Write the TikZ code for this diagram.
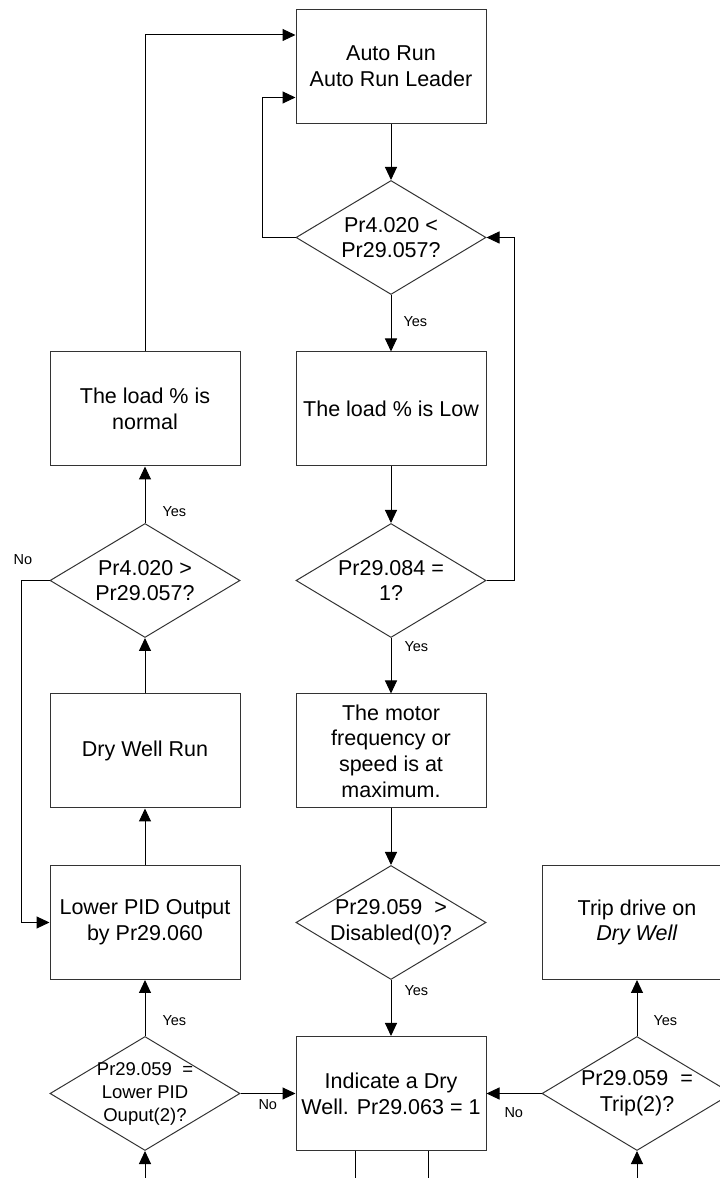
\documentclass[tikz,border=0pt]{standalone}
\usepackage{fontspec}
\setmainfont{Liberation Sans}
\usetikzlibrary{shapes.geometric,arrows.meta}

\tikzset{
  proc/.style={draw=black!80,rectangle,minimum width=190bp,minimum height=114bp,
    inner sep=0pt,align=center,font=\fontsize{21.5bp}{25.7bp}\selectfont},
  decision/.style={draw=black!80,diamond,minimum width=190bp,minimum height=114bp,inner sep=0pt},
  qtext/.style={align=center,inner sep=0pt,font=\fontsize{21.5bp}{25.7bp}\selectfont},
  ans/.style={anchor=west,inner sep=0pt,font=\fontsize{14.5bp}{17bp}\selectfont},
}

\begin{document}
\begin{tikzpicture}[line width=1bp,>={Triangle[length=13bp,width=12bp,color=black]}]
  \useasboundingbox (0bp,0bp) rectangle (720bp,1178bp);
  \clip (0bp,0bp) rectangle (720bp,1178bp);
		%%
  \node (AutoRun) at (391bp,1111.5bp) [proc] {Auto Run\\Auto Run Leader};
  \node (CheckLow) at (391bp,940.5bp) [decision] {};
  \node (CheckLowTxt) at (CheckLow) [qtext] {Pr4.020 <\\Pr29.057?};
  \node (LoadLow) at (391bp,769bp) [proc] {The load \% is Low};
  \node (CheckAuto) at (391bp,597.5bp) [decision] {};
  \node (CheckAutoTxt) at (CheckAuto) [qtext] {Pr29.084 =\\1?};
  \node (MaxSpeed) at (391bp,427bp) [proc] {The motor\\frequency or\\speed is at\\maximum.};
  \node (CheckEnable) at (391bp,255.5bp) [decision] {};
  \node (CheckEnableTxt) at (CheckEnable) [qtext] {Pr29.059~~>\\Disabled(0)?};
  \node (DryWell) at (391bp,84.5bp) [proc] {Indicate a Dry\\Well. Pr29.063 = 1};
		%
  \node (LoadNormal) at (145bp,769bp) [proc] {The load \% is\\normal};
  \node (CheckHigh) at (145bp,597.5bp) [decision] {};
  \node (CheckHighTxt) at (CheckHigh) [qtext] {Pr4.020 >\\Pr29.057?};
  \node (DryRun) at (145bp,427bp) [proc] {Dry Well Run};
  \node (LowerPID) at (145bp,255.5bp) [proc] {Lower PID Output\\by Pr29.060};
  \node (CheckLower) at (145bp,84.5bp) [decision] {};
  \node (CheckLowerTxt) at (CheckLower) [qtext,font=\fontsize{18.5bp}{23bp}\selectfont] {Pr29.059~~=\\Lower PID\\Ouput(2)?};
		%
  \node (Trip) at (637bp,255.5bp) [proc] {Trip drive on\\\textit{Dry Well}};
  \node (CheckTrip) at (637bp,84.5bp) [decision] {};
  \node (CheckTripTxt) at (CheckTrip) [qtext] {Pr29.059~~=\\Trip(2)?};
		%
  \coordinate (InL) at (145bp,0bp);
  \coordinate (InR) at (637bp,0bp);
  \coordinate (OutA) at (355bp,0bp);
  \coordinate (OutB) at (428bp,0bp);
		%
  \draw [->] (AutoRun) -- (CheckLow);
  \draw [->] (CheckLow) -- (LoadLow);
  \draw [->] (LoadLow) -- (CheckAuto);
  \draw [->] (CheckAuto) -- (MaxSpeed);
  \draw [->] (MaxSpeed) -- (CheckEnable);
  \draw [->] (CheckEnable) -- (DryWell);
  \draw [->] (CheckLower) -- (DryWell);
  \draw [->] (CheckTrip) -- (DryWell);
  \draw [->] (CheckLower) -- (LowerPID);
  \draw [->] (LowerPID) -- (DryRun);
  \draw [->] (DryRun) -- (CheckHigh);
  \draw [->] (CheckHigh) -- (LoadNormal);
  \draw [->] (CheckTrip) -- (Trip);
  \draw [->] (InL) -- (CheckLower);
  \draw [->] (InR) -- (CheckTrip);
  \draw (OutA |- DryWell.south) -- (OutA);
  \draw (OutB |- DryWell.south) -- (OutB);
  \draw [->] (CheckLow.west) -- ++(-33bp,0) |- ([yshift=-31bp]AutoRun.west);
  \draw [->] (LoadNormal.north) |- ([yshift=31.5bp]AutoRun.west);
  \draw [->] (CheckAuto.east) -- ++(28bp,0) |- (CheckLow.east);
  \draw [->] (CheckHigh.west) -- ++(-28.5bp,0) |- (LowerPID.west);
		%
  \node (YesA) at (403bp,856bp) [ans] {Yes};
  \node (YesB) at (404bp,531bp) [ans] {Yes};
  \node (YesC) at (404bp,187bp) [ans] {Yes};
  \node (YesD) at (162bp,666bp) [ans] {Yes};
  \node (YesE) at (162bp,157bp) [ans] {Yes};
  \node (YesF) at (653bp,157bp) [ans] {Yes};
  \node (NoA) at (23bp,618bp) [ans,anchor=center] {No};
  \node (NoB) at (258bp,73bp) [ans] {No};
  \node (NoC) at (504bp,65bp) [ans] {No};
		%
\end{tikzpicture}
\end{document}
